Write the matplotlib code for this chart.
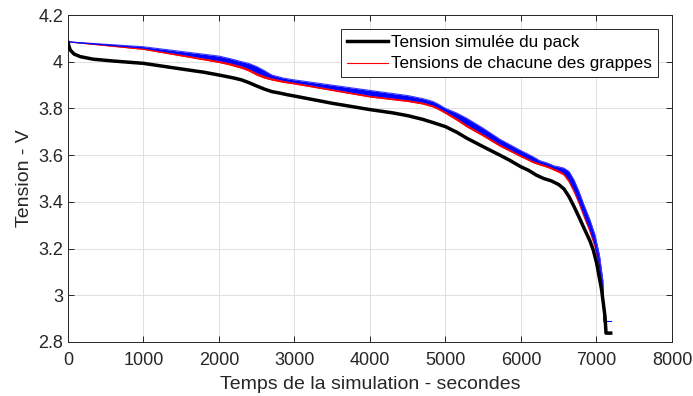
import matplotlib
matplotlib.use("Agg")
import matplotlib.pyplot as plt
from matplotlib.ticker import FormatStrFormatter

plt.rcParams['font.family'] = ['Liberation Sans', 'DejaVu Sans']

# tension simulee du pack (noir)
t_pack = [0, 10, 30, 80, 160, 330, 600, 1000, 1500, 1800, 2000, 2200, 2300, 2400, 2500, 2600,
          2700, 2800, 2900, 3000, 3500, 4000, 4300, 4500, 4700, 4830, 5000, 5150, 5280, 5500,
          5720, 5850, 6000, 6100, 6200, 6300, 6400, 6500, 6570, 6636, 6702, 6768, 6834, 6914,
          6957, 7002, 7068, 7113, 7126, 7188]
v_pack = [4.082, 4.07, 4.05, 4.033, 4.022, 4.011, 4.003, 3.993, 3.969, 3.955, 3.943, 3.930,
          3.922, 3.910, 3.896, 3.883, 3.872, 3.866, 3.859, 3.853, 3.822, 3.795, 3.781, 3.769,
          3.753, 3.740, 3.722, 3.698, 3.673, 3.636, 3.600, 3.578, 3.550, 3.535, 3.515, 3.500,
          3.490, 3.474, 3.455, 3.422, 3.38, 3.335, 3.288, 3.232, 3.194, 3.137, 3.023, 2.908,
          2.838, 2.838]

# grappes (rouge) et cellules (bleu), memes instants
t_grp = [0, 1000, 2000, 2150, 2300, 2400, 2500, 2600, 2700, 2850, 3000, 4000, 4500, 4700, 4830,
         4900, 5000, 5150, 5280, 5500, 5720, 6000, 6100, 6160, 6250, 6350, 6437, 6500, 6570,
         6636, 6702, 6768, 6834, 6914, 6980, 7040, 7085, 7100]
v_grp_low = [4.085, 4.053, 3.997, 3.986, 3.972, 3.960, 3.943, 3.930, 3.922, 3.912, 3.905,
             3.849, 3.830, 3.819, 3.807, 3.797, 3.779, 3.750, 3.722, 3.682, 3.639, 3.593,
             3.578, 3.568, 3.558, 3.548, 3.536, 3.527, 3.515, 3.486, 3.444, 3.394, 3.337,
             3.272, 3.208, 3.12, 3.0, 2.89]
v_grp_high = [4.085, 4.059, 4.006, 3.996, 3.983, 3.971, 3.955, 3.941, 3.932, 3.921, 3.913,
              3.857, 3.838, 3.828, 3.816, 3.806, 3.789, 3.761, 3.733, 3.692, 3.649, 3.602,
              3.587, 3.577, 3.567, 3.557, 3.545, 3.537, 3.525, 3.498, 3.456, 3.406, 3.349,
              3.284, 3.22, 3.13, 3.01, 2.89]
v_cell_high = [4.085, 4.064, 4.024, 4.013, 4.0, 3.992, 3.979, 3.962, 3.943, 3.930, 3.922,
               3.877, 3.855, 3.842, 3.830, 3.819, 3.80, 3.780, 3.758, 3.715, 3.668, 3.619,
               3.603, 3.593, 3.576, 3.566, 3.554, 3.550, 3.544, 3.530, 3.494, 3.444, 3.387,
               3.322, 3.258, 3.17, 3.06, 2.89]
t_foot = [7100, 7188]
v_foot = [2.89, 2.89]

fig = plt.figure(figsize=(6.93, 3.96), dpi=100)
ax = fig.add_axes([0.0981, 0.1364, 0.8716, 0.8257])

ax.plot(t_pack, v_pack, color='black', lw=2.5, label='Tension simulée du pack', zorder=3)
ax.fill_between(t_grp, v_grp_low, v_grp_high, color='red', lw=0, zorder=2)
ax.plot(t_grp, v_grp_low, color='red', lw=0.8, label='Tensions de chacune des grappes', zorder=2)
ax.fill_between(t_grp, v_grp_high, v_cell_high, color='blue', lw=0, zorder=2.5)
ax.plot(t_grp, v_cell_high, color='#3a3aff', lw=0.8, zorder=2.5)
ax.plot(t_grp, v_grp_high, color='blue', lw=0.8, zorder=2.5)
ax.plot(t_foot, v_foot, color='blue', lw=0.8, zorder=2.5)

ax.set_xlim(0, 8000)
ax.set_ylim(2.8, 4.2)
ax.set_xticks(range(0, 8001, 1000))
ax.set_yticks([2.8, 3.0, 3.2, 3.4, 3.6, 3.8, 4.0, 4.2])
ax.yaxis.set_major_formatter(FormatStrFormatter('%g'))
ax.grid(True, color='#e0e0e0', lw=0.7)
ax.set_axisbelow(True)
ax.tick_params(direction='in', top=True, right=True, labelsize=13, colors='#262626',
               length=4, width=0.7)
ax.tick_params(axis='x', pad=7)
for s in ax.spines.values():
    s.set_color('#262626')
    s.set_linewidth(0.7)

ax.set_xlabel('Temps de la simulation - secondes', fontsize=14, color='#262626', labelpad=5.5)
ax.set_ylabel('Tension - V', fontsize=14, color='#262626', labelpad=4)

leg = ax.legend(loc='upper right', fontsize=12.3, frameon=True, fancybox=False,
                edgecolor='#262626', framealpha=1, borderpad=0.35, handlelength=2.4,
                handletextpad=0.2, labelspacing=0.4, borderaxespad=0.8)
leg.get_frame().set_linewidth(0.7)

fig.savefig('out.png', dpi=100)
